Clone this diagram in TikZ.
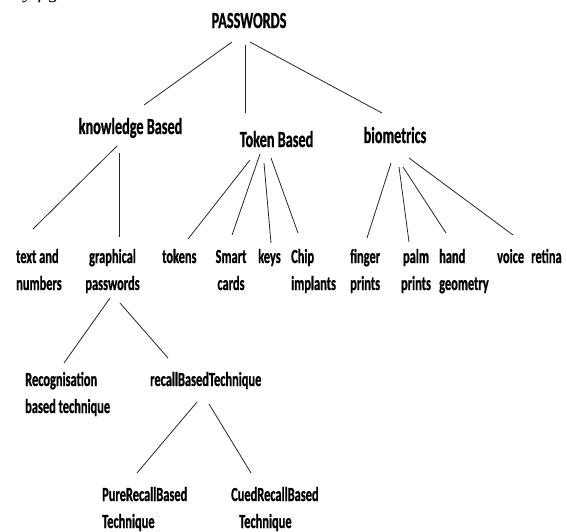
\documentclass[tikz,border=0pt]{standalone}
\usepackage{fontspec}
\setmainfont{Carlito}[FakeStretch=0.62,BoldFeatures={FakeBold=0.8}]
\newfontfamily\fragfont{Liberation Serif}
\usetikzlibrary{calc}
\newcommand\twoL[2]{\vtop{\baselineskip=27pt\halign{##\hfil\cr #1\cr #2\cr}}}
\newcommand\twoC[2]{\vtop{\baselineskip=27pt\halign{\hfil##\hfil\cr #1\cr #2\cr}}}
\begin{document}
\begin{tikzpicture}[x=1pt,y=-1pt,
  lbl/.style={inner sep=0pt,font=\fontsize{20}{27}\selectfont\bfseries},
  top/.style={inner sep=0pt,font=\fontsize{23}{28}\selectfont\bfseries},
  link/.style={line width=0.8pt,black!85}]
\useasboundingbox (0,0) rectangle (567,531);
% clipped fragment of text above
\node[inner sep=0pt,anchor=base west,font=\fragfont\itshape\fontsize{20}{24}\selectfont] (frag) at (14,-1.5) {by figure};
% nodes
\node[top,anchor=base] (pw) at (249,28) {PASSWORDS};
\node[top,anchor=base] (kb) at (130.5,134) {knowledge Based};
\node[top,anchor=base] (tb) at (276.5,147) {Token Based};
\node[top,anchor=base] (bio) at (395,143) {biometrics};
\node[lbl,anchor=base west] (txt) at (16,263) {\twoL{text and}{numbers}};
\node[lbl,anchor=base] (gr) at (112.5,263) {\twoC{graphical}{passwords}};
\node[lbl,anchor=base west] (tok) at (162,263) {tokens};
\node[lbl,anchor=base] (sm) at (231,263) {\twoC{Smart}{cards}};
\node[lbl,anchor=base west] (key) at (258,263) {keys};
\node[lbl,anchor=base west] (chip) at (291,263) {\twoL{Chip}{implants}};
\node[lbl,anchor=base west] (fin) at (350,263) {\twoL{finger}{prints}};
\node[lbl,anchor=base] (palm) at (416,263) {\twoC{palm}{prints}};
\node[lbl,anchor=base west] (hand) at (439,263) {\twoL{hand}{geometry}};
\node[lbl,anchor=base west] (voice) at (497,263) {voice};
\node[lbl,anchor=base west] (ret) at (531,263) {retina};
\node[lbl,anchor=base west] (rec) at (25,386) {\twoL{Recognisation}{based technique}};
\node[lbl,anchor=base west] (rcl) at (150,386) {recallBasedTechnique};
\node[lbl,anchor=base west] (pure) at (102,501) {\twoL{PureRecallBased}{Technique}};
\node[lbl,anchor=base west] (cued) at (231,501) {\twoL{CuedRecallBased}{\hspace*{8pt}Technique}};
% connectors
\draw[link] ($(pw.base)+(-17,14)$) -- ($(kb.base)+(13.5,-29)$);
\draw[link] ($(pw.base)+(-4,17)$) -- ($(tb.base)+(-31.5,-34)$);
\draw[link] ($(pw.base)+(1,14)$) -- ($(bio.base)+(-13,-30)$);
\draw[link] ($(kb.base)+(-13.5,12)$) -- ($(txt.base west)+(17,-34)$);
\draw[link] ($(kb.base)+(-11.5,19)$) -- ($(gr.base)+(6.5,-26)$);
\draw[link] ($(tb.base)+(-26.5,13)$) -- ($(tok.base west)+(26,-24)$);
\draw[link] ($(tb.base)+(-16.5,7)$) -- ($(sm.base)+(1,-28)$);
\draw[link] ($(tb.base)+(-12.5,16)$) -- ($(key.base west)+(13,-20)$);
\draw[link] ($(tb.base)+(-5.5,11)$) -- ($(chip.base west)+(7,-30)$);
\draw[link] ($(bio.base)+(-4,20)$) -- ($(fin.base west)+(17,-25)$);
\draw[link] ($(bio.base)+(4,24)$) -- ($(palm.base)+(-7,-21)$);
\draw[link] ($(bio.base)+(8,24)$) -- ($(hand.base west)+(7,-30)$);
\draw[link] ($(bio.base)+(14,15)$) -- ($(voice.base west)+(16,-28)$);
\draw[link] ($(gr.base)+(-2.5,35)$) -- ($(rec.base west)+(39,-23)$);
\draw[link] ($(gr.base)+(7.5,40)$) -- ($(rcl.base west)+(18,-28)$);
\draw[link] ($(rcl.base west)+(47,16)$) -- ($(pure.base west)+(35,-28)$);
\draw[link] ($(rcl.base west)+(59,18)$) -- ($(cued.base west)+(20,-28)$);
\end{tikzpicture}
\end{document}
